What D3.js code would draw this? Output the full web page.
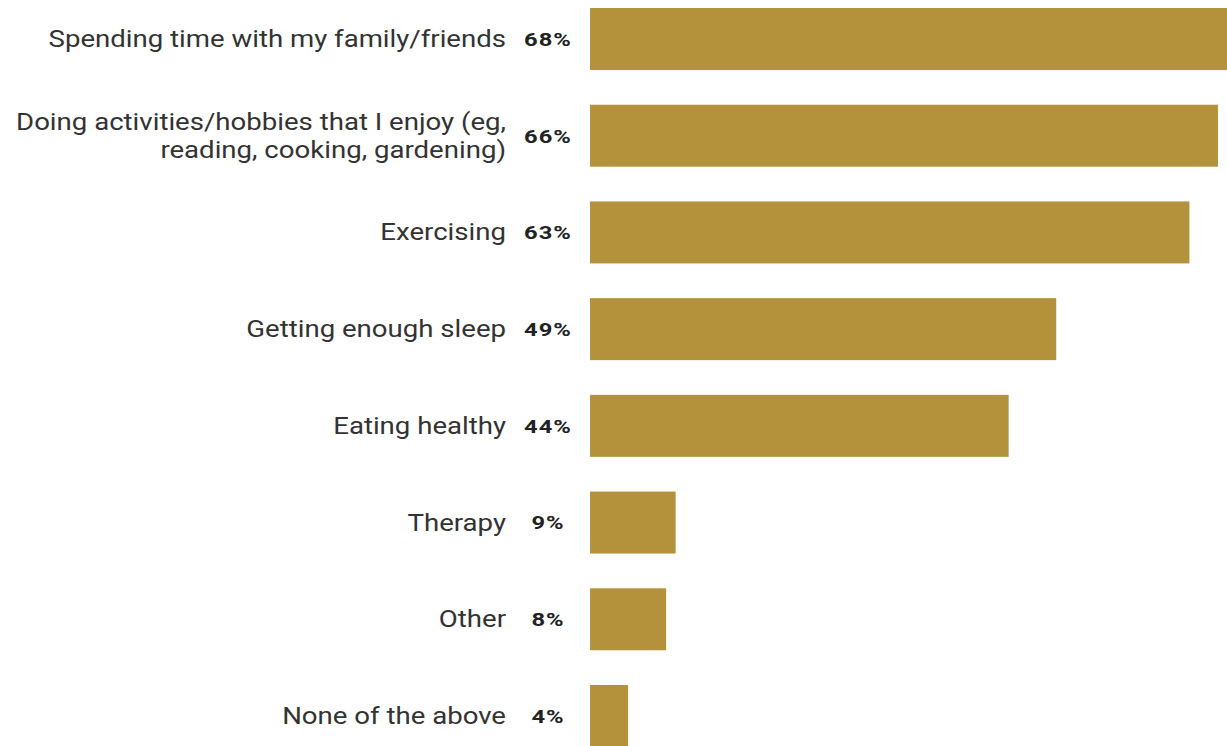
<!DOCTYPE html>
<html>
<head>
<meta charset="utf-8">
<script src="https://cdn.jsdelivr.net/npm/d3@7"></script>
<style>
  body { margin: 0; background: #fff; }
  svg { display: block; }
</style>
</head>
<body>
<script>
// categories (top to bottom), label lines split where the original wraps
const categories = [
    ["Spending time with my family/friends"],
    ["Doing activities/hobbies that I enjoy (eg,", "reading, cooking, gardening)"],
    ["Exercising"],
    ["Getting enough sleep"],
    ["Eating healthy"],
    ["Therapy"],
    ["Other"],
    ["None of the above"]
];
const values = [68, 66, 63, 49, 44, 9, 8, 4];

let width = 1227, height = 746;
let barColor = "#b3923b";
let labelSize = 23;
let labelRight = 506;

let svg = d3.select("body").append("svg")
    .attr("width", width)
    .attr("height", height);

let y = d3.scaleBand()
    .domain(d3.range(values.length))
    .range([8, 747])
    .paddingInner(0.359)
    .paddingOuter(0);

// ~9.5px per percentage point, bars start at x=590
let x = d3.scaleLinear()
    .domain([0, 68])
    .range([590, 1237]);

// bars
svg.append("g")
    .selectAll("rect")
    .data(values)
    .enter().append("rect")
    .attr("x", x(0))
    .attr("y", (d, i) => y(i))
    .attr("width", d => x(d) - x(0))
    .attr("height", y.bandwidth())
    .style("fill", barColor);

// percent labels (font stretched a bit to look like the wide original face)
svg.append("g")
    .attr("transform", "translate(548,0) scale(1.25,1)")
    .selectAll("text")
    .data(values)
    .enter().append("text")
    .attr("x", 0)
    .attr("y", (d, i) => y(i) + y.bandwidth() / 2)
    .attr("dy", "0.36em")
    .style("text-anchor", "middle")
    .style("font-family", "Roboto, sans-serif")
    .style("font-weight", "bold")
    .style("font-size", "19px")
    .style("letter-spacing", "0.8px")
    .style("fill", "#222")
    .text(d => d + "%");

// category labels
let lineH = 28;
let labels = svg.append("g")
    .attr("transform", "translate(" + labelRight + ",0) scale(1.2,1)")
    .selectAll("text")
    .data(categories)
    .enter().append("text")
    .attr("y", (d, i) => y(i) + y.bandwidth() / 2)
    .style("text-anchor", "end")
    .style("font-family", "Roboto, sans-serif")
    .style("font-size", labelSize + "px")
    .style("fill", "#333");

labels.selectAll("tspan")
    .data(d => d.map((t, k) => ({t: t, k: k, n: d.length})))
    .enter().append("tspan")
    .attr("x", 0)
    .attr("dy", d => d.k === 0 ? (0.35 * labelSize - (d.n - 1) * lineH / 2) : lineH)
    .text(d => d.t);
</script>
</body>
</html>
